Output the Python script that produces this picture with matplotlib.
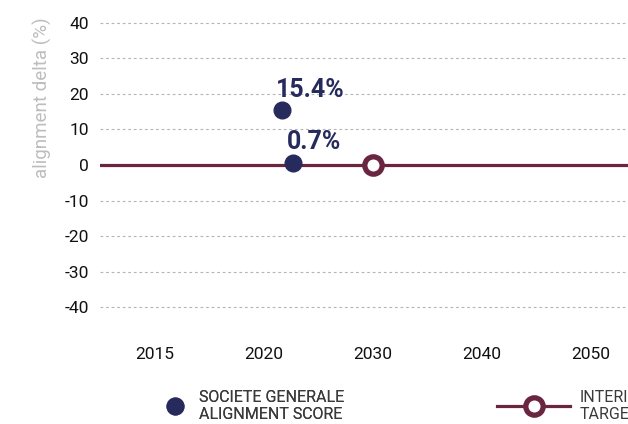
import numpy as np
import matplotlib.pyplot as plt
from matplotlib.lines import Line2D

plt.rcParams['font.family'] = ['Roboto', 'DejaVu Sans']

# x轴刻度年份（等间距显示）
tick_years = [2015, 2020, 2030, 2040, 2050]

# 对齐得分
score_years = [2021.7, 2022.7]
score_values = [15.4, 0.7]

# 中期目标
target_years = [2030]
target_values = [0]

navy = '#272a5c'
maroon = '#6a2641'

def year_pos(y):
  # 年份映射到等间距的刻度位置
  return np.interp(y, tick_years, np.arange(len(tick_years)))

fig = plt.figure(figsize=(6.28, 4.24), dpi=100)
# 坐标区向右超出画布
ax = fig.add_axes([100 / 628, 1 - 325 / 424, 545 / 628, 320 / 424])

ax.set_xlim(-0.5, len(tick_years) - 0.5)
ax.set_ylim(-45, 45)

yticks = np.arange(-40, 41, 10)
ax.set_yticks(yticks)
ax.set_yticklabels([str(v) for v in yticks])
ax.set_xticks(np.arange(len(tick_years)))
ax.set_xticklabels([str(y) for y in tick_years])

for v in yticks:
  if v != 0:
    ax.axhline(v, color='#b5b5b5', lw=0.8, ls=(0, (2.5, 2.5)), zorder=1)

# 目标线和目标点
ax.axhline(target_values[0], color=maroon, lw=2.3, zorder=2)
ax.plot(year_pos(target_years), target_values, 'o', ms=12.5, mfc='white',
        mec=maroon, mew=3.8, zorder=4)

# 得分点和数值标签
ax.plot(year_pos(score_years), score_values, 'o', ms=12, color=navy, zorder=3)
for yr, v in zip(score_years, score_values):
  ax.annotate('%.1f%%' % v, (year_pos(yr), v), xytext=(-4.5, 14.5),
              textcoords='offset points', ha='left', va='center',
              fontsize=18, fontweight='bold', color=navy)

for s in ax.spines.values():
  s.set_visible(False)
ax.tick_params(length=0, labelsize=12.5, colors='#111111')
ax.tick_params(axis='y', pad=8)
ax.tick_params(axis='x', pad=16)

fig.text(42 / 628, 1 - 98 / 424, 'alignment delta (%)', rotation=90,
         ha='center', va='center', fontsize=13.5, color='#bdbdbd')

# 图例
h1 = Line2D([], [], marker='o', ls='none', ms=12, color=navy)
h2 = Line2D([], [], color=maroon, lw=2.3, marker='o', ms=12.5, mfc='white',
            mec=maroon, mew=3.8)
leg1 = fig.legend([h1], ['SOCIETE GENERALE\nALIGNMENT SCORE'], loc='center left',
                  bbox_to_anchor=(158 / 628, 1 - 406 / 424), frameon=False,
                  fontsize=11.5, handlelength=2.1, handletextpad=0.45,
                  borderpad=0, borderaxespad=0, labelcolor='#3a3a3a')
leg2 = fig.legend([h2], ['INTERIM\nTARGET'], loc='center left',
                  bbox_to_anchor=(497 / 628, 1 - 406 / 424), frameon=False,
                  fontsize=11.5, handlelength=4.6, handletextpad=0.6,
                  borderpad=0, borderaxespad=0, labelcolor='#3a3a3a')
for leg in (leg1, leg2):
  for t in leg.get_texts():
    t.set_linespacing(1.1)
fig.add_artist(leg1)

fig.savefig('out.png', dpi=100)
